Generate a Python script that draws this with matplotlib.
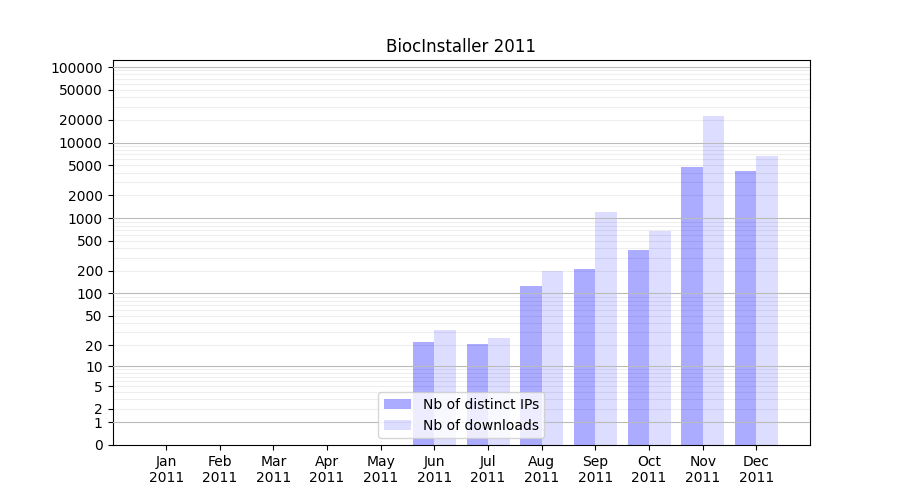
import numpy as np
import matplotlib
matplotlib.use('Agg')
import matplotlib.pyplot as plt
from matplotlib.ticker import FixedLocator

months = ['Jan', 'Feb', 'Mar', 'Apr', 'May', 'Jun', 'Jul', 'Aug', 'Sep', 'Oct', 'Nov', 'Dec']
year = '2011'
nb_ips = [0, 0, 0, 0, 0, 22, 21, 125, 210, 377, 4740, 4200]
nb_downloads = [0, 0, 0, 0, 0, 32, 25, 198, 1200, 674, 22400, 6650]

x = np.arange(1, len(months) + 1)

fig, ax = plt.subplots(figsize=(9, 5), dpi=100)

# y scale: log10(1 + y)
def fwd(v):
    return np.log10(1 + np.clip(v, 0, None))

def inv(v):
    return 10 ** v - 1

ax.set_yscale('function', functions=(fwd, inv))

ax.bar(x, nb_ips, width=-0.4, align='edge', color='blue', alpha=0.33, label='Nb of distinct IPs')
ax.bar(x, nb_downloads, width=0.4, align='edge', color='blue', alpha=0.133, label='Nb of downloads')

major = [0, 1, 2, 5, 10, 20, 50, 100, 200, 500, 1000, 2000, 5000, 10000, 20000, 50000, 100000]
ax.yaxis.set_major_locator(FixedLocator(major))
ax.set_yticklabels([str(m) for m in major])

decades = [1, 10, 100, 1000, 10000, 100000]
minor = [d * k for d in [1, 10, 100, 1000, 10000, 100000] for k in range(2, 10)]
for d in decades:
    ax.axhline(d, color='#bbbbbb', lw=0.8, zorder=3)
for m in minor:
    ax.axhline(m, color='#eeeeee', lw=0.8, zorder=0)

ax.set_ylim(0, inv(5.093))
ax.set_xlim(0, 13)
ax.set_xticks(x)
ax.set_xticklabels([m + '\n' + year for m in months])
ax.set_title('BiocInstaller 2011')
ax.legend(loc='lower center')

fig.savefig('out.png')
